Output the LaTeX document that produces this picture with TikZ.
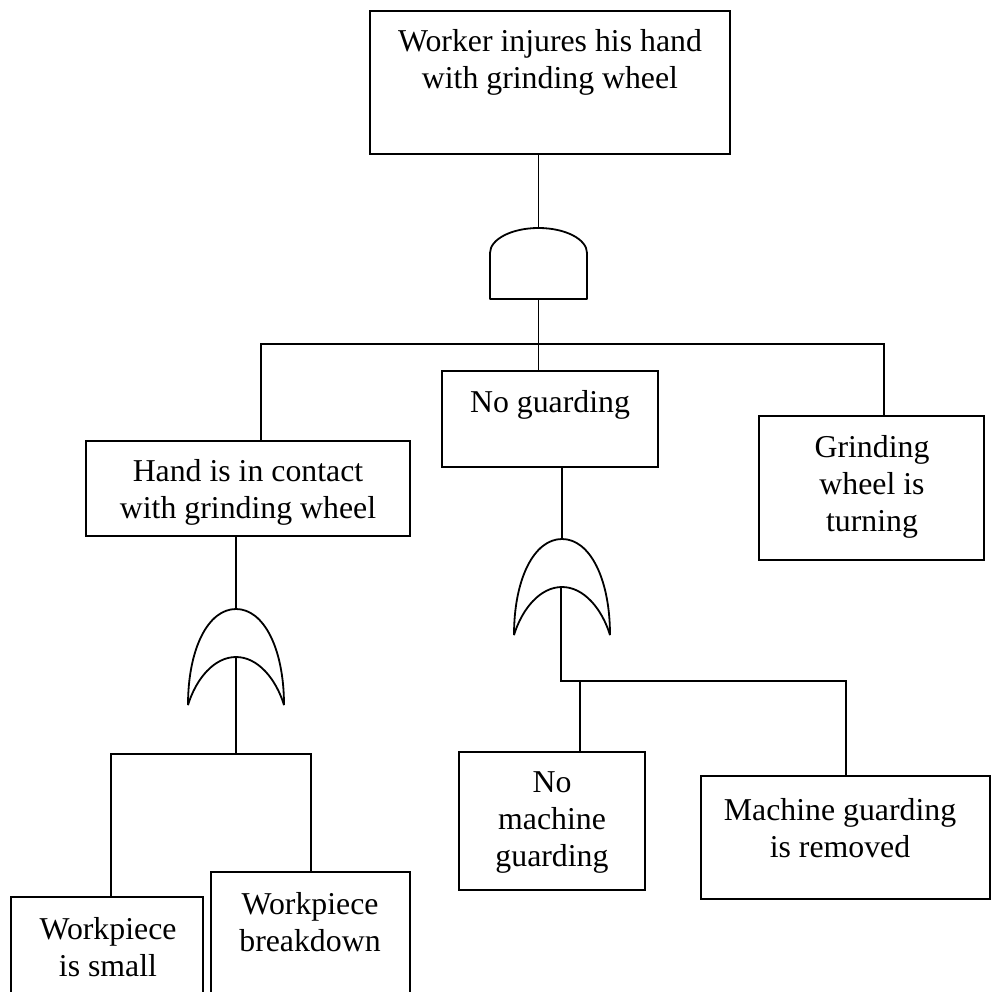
\documentclass[tikz,border=0pt]{standalone}
\usepackage{fontspec}
\setmainfont{Liberation Serif}
\begin{document}
\begin{tikzpicture}[x=1pt,y=-1pt,
  box/.style={draw, line width=1.8pt, inner sep=0pt, outer sep=0pt},
  txt/.style={align=center, inner sep=0pt, font=\fontsize{31.8}{37}\selectfont},
  conn/.style={line width=1.8pt},
  gateline/.style={line width=1.8pt, line join=round},
  orgate/.pic={
    \draw[gateline] (-48,96) .. controls (-48,40) and (-28,0) .. (0,0)
                    .. controls (28,0) and (48,40) .. (48,96);
    \draw[gateline] (-48,96) .. controls (-40,70) and (-22,48) .. (0,48)
                    .. controls (22,48) and (40,70) .. (48,96);
  }]
\clip (0,0) rectangle (991,992);
\useasboundingbox (0,0) rectangle (991,992);

% boxes
\node[box, minimum width=360pt, minimum height=143pt] (top) at (550,82.5) {};
\node[box, minimum width=216pt, minimum height=96pt] (ng) at (550,419) {};
\node[box, minimum width=324pt, minimum height=95pt] (hand) at (248,488.5) {};
\node[box, minimum width=225pt, minimum height=144pt] (grind) at (871.5,488) {};
\node[box, minimum width=186pt, minimum height=138pt] (nomach) at (552,821) {};
\node[box, minimum width=289pt, minimum height=123pt] (mgr) at (845.5,837.5) {};
\node[box, minimum width=192pt, minimum height=103pt] (wps) at (107,948.5) {};
\node[box, minimum width=199pt, minimum height=128pt] (wpb) at (310.5,936) {};

% texts
\node[txt] (ttop) at (550,62) {Worker injures his hand\\with grinding wheel};
\node[txt] (tng) at (550,405) {No guarding};
\node[txt] (thand) at (248,492) {Hand is in contact\\with grinding wheel};
\node[txt] (tgrind) at (872,487) {Grinding\\wheel is\\turning};
\node[txt] (tnomach) at (552,823) {No\\machine\\guarding};
\node[txt] (tmgr) at (840,828) {Machine guarding\\is removed};
\node[txt] (twps) at (108,947) {Workpiece\\is small};
\node[txt] (twpb) at (310,922) {Workpiece\\breakdown};

% AND gate
\coordinate (andin) at (538.5,228);
\coordinate (andout) at (538.5,299);
\draw[gateline] (490,299) -- (490,253)
  .. controls (490,239.2) and (511.7,228) .. (andin)
  .. controls (565.3,228) and (587,239.2) .. (587,253) -- (587,299) -- cycle;

% OR gates
\pic at (236,609) {orgate};
\pic at (562,539) {orgate};
\coordinate (lgin) at (236,609);
\coordinate (lgout) at (236,657);
\coordinate (mgin) at (562,539);
\coordinate (mgout) at (561,587);

% connectors: top level
\coordinate (busA) at (538.5,344);
\coordinate (hx) at (261,344);
\coordinate (gx) at (884,344);
\draw[conn] (top.south -| andin) -- (andin);
\draw[conn] (andout) -- (busA);
\draw[conn] (hx |- hand.north) -- (hx) -- (gx) -- (gx |- grind.north);
\draw[conn] (busA) -- (busA |- ng.north);

% left branch
\coordinate (lbus) at (236,754);
\coordinate (l1) at (111,754);
\coordinate (l2) at (311,754);
\draw[conn] (hand.south -| lgin) -- (lgin);
\draw[conn] (lgout) -- (lbus);
\draw[conn] (l1 |- wps.north) -- (l1) -- (l2) -- (l2 |- wpb.north);

% middle branch
\coordinate (m1) at (561,681);
\coordinate (m2) at (846,681);
\coordinate (mv) at (580,681);
\draw[conn] (ng.south -| mgin) -- (mgin);
\draw[conn] (mgout) -- (m1) -- (m2) -- (m2 |- mgr.north);
\draw[conn] (mv) -- (mv |- nomach.north);
\end{tikzpicture}
\end{document}
